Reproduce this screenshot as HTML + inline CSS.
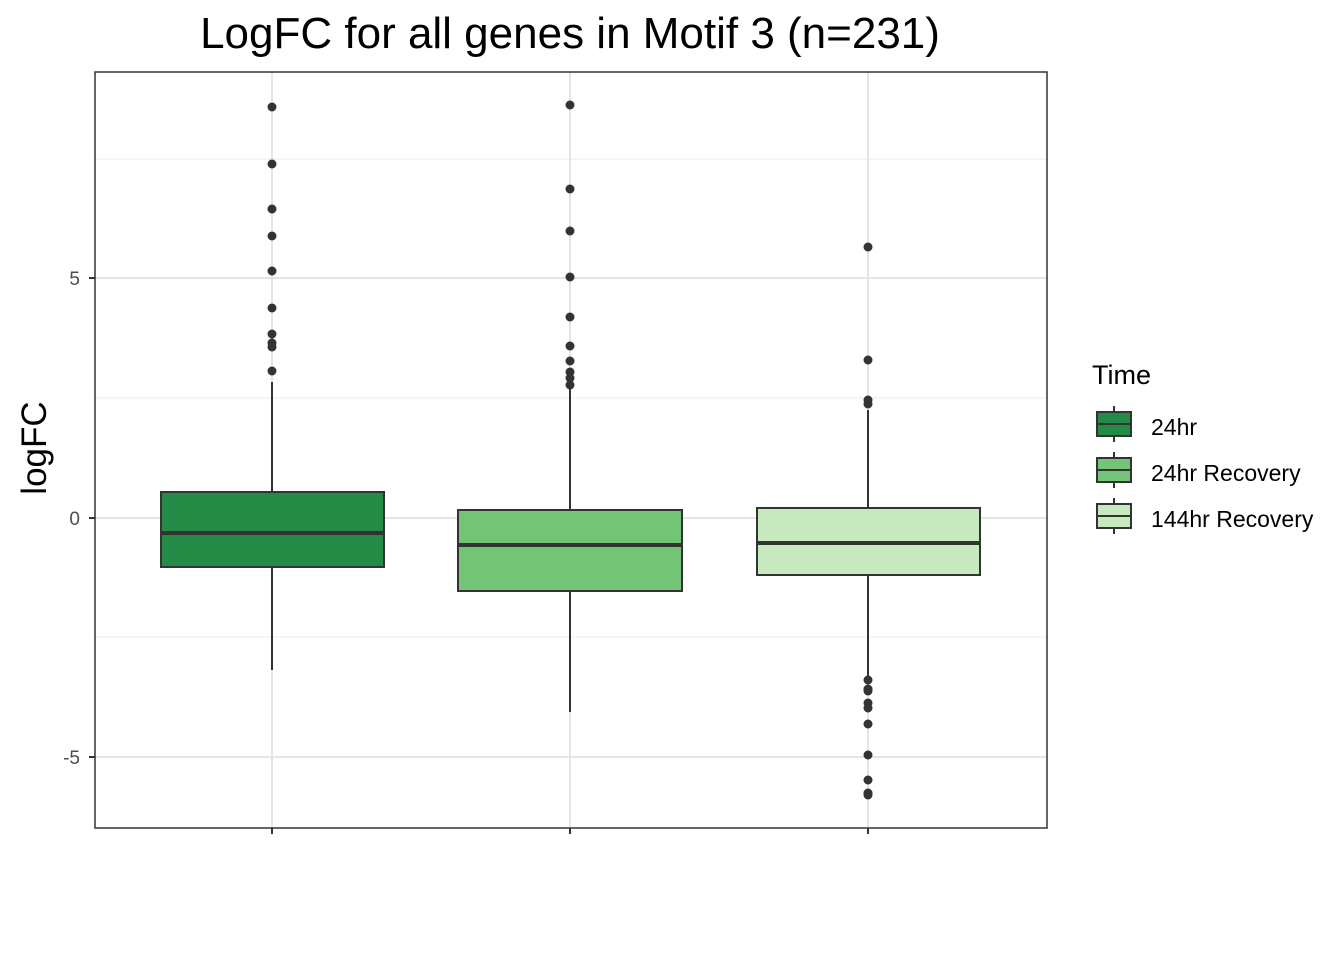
<!DOCTYPE html>
<html><head><style>body{margin:0;background:#fff}</style></head><body>
<svg width="1344" height="960" xmlns="http://www.w3.org/2000/svg" font-family="Liberation Sans, Arial, sans-serif">
<rect width="1344" height="960" fill="#fff"/>
<text x="570" y="48" font-size="44" text-anchor="middle" fill="#000">LogFC for all genes in Motif 3 (n=231)</text>
<g stroke="#ebebeb" stroke-width="1">
<line x1="95" x2="1047" y1="159" y2="159"/><line x1="95" x2="1047" y1="398" y2="398"/><line x1="95" x2="1047" y1="637" y2="637"/>
</g>
<g stroke="#e5e5e5" stroke-width="2">
<line x1="95" x2="1047" y1="278" y2="278"/><line x1="95" x2="1047" y1="518" y2="518"/><line x1="95" x2="1047" y1="757" y2="757"/>
<line x1="272" x2="272" y1="72" y2="828"/><line x1="570" x2="570" y1="72" y2="828"/><line x1="868" x2="868" y1="72" y2="828"/>
</g>
<g stroke="#333" stroke-width="2">
<line x1="272" x2="272" y1="382" y2="492"/><line x1="272" x2="272" y1="567" y2="670"/>
<rect x="161" y="492" width="223" height="75" fill="#238B45"/>
<line x1="161" x2="384" y1="533" y2="533" stroke-width="4"/>
<line x1="570" x2="570" y1="385" y2="510"/><line x1="570" x2="570" y1="591" y2="712"/>
<rect x="458" y="510" width="224" height="81" fill="#74C476"/>
<line x1="458" x2="682" y1="545" y2="545" stroke-width="4"/>
<line x1="868" x2="868" y1="410" y2="508"/><line x1="868" x2="868" y1="575" y2="680"/>
<rect x="757" y="508" width="223" height="67" fill="#C7E9C0"/>
<line x1="757" x2="980" y1="543" y2="543" stroke-width="4"/>
</g>
<g fill="#333">
<circle cx="272" cy="107" r="4.5"/><circle cx="272" cy="164" r="4.5"/><circle cx="272" cy="209" r="4.5"/><circle cx="272" cy="236" r="4.5"/><circle cx="272" cy="271" r="4.5"/><circle cx="272" cy="308" r="4.5"/><circle cx="272" cy="334" r="4.5"/><circle cx="272" cy="343" r="4.5"/><circle cx="272" cy="347" r="4.5"/><circle cx="272" cy="371" r="4.5"/>
<circle cx="570" cy="105" r="4.5"/><circle cx="570" cy="189" r="4.5"/><circle cx="570" cy="231" r="4.5"/><circle cx="570" cy="277" r="4.5"/><circle cx="570" cy="317" r="4.5"/><circle cx="570" cy="346" r="4.5"/><circle cx="570" cy="361" r="4.5"/><circle cx="570" cy="372" r="4.5"/><circle cx="570" cy="378" r="4.5"/><circle cx="570" cy="385" r="4.5"/>
<circle cx="868" cy="247" r="4.5"/><circle cx="868" cy="360" r="4.5"/><circle cx="868" cy="400" r="4.5"/><circle cx="868" cy="404" r="4.5"/>
<circle cx="868" cy="680" r="4.5"/><circle cx="868" cy="689" r="4.5"/><circle cx="868" cy="691" r="4.5"/><circle cx="868" cy="703" r="4.5"/><circle cx="868" cy="708" r="4.5"/><circle cx="868" cy="724" r="4.5"/><circle cx="868" cy="755" r="4.5"/><circle cx="868" cy="780" r="4.5"/><circle cx="868" cy="793" r="4.5"/><circle cx="868" cy="795" r="4.5"/>
</g>
<rect x="95" y="72" width="952" height="756" fill="none" stroke="#333" stroke-width="1.5"/>
<g stroke="#333" stroke-width="2">
<line x1="89" x2="95" y1="278" y2="278"/><line x1="89" x2="95" y1="518" y2="518"/><line x1="89" x2="95" y1="757" y2="757"/>
<line x1="272" x2="272" y1="828" y2="834"/><line x1="570" x2="570" y1="828" y2="834"/><line x1="868" x2="868" y1="828" y2="834"/>
</g>
<g font-size="19" fill="#4d4d4d" text-anchor="end">
<text x="80" y="285">5</text><text x="80" y="525">0</text><text x="80" y="764">-5</text>
</g>
<text transform="translate(46,448) rotate(-90)" font-size="35" text-anchor="middle" fill="#000">logFC</text>
<text x="1092" y="384" font-size="27" fill="#000">Time</text>
<g stroke="#333" stroke-width="2">
<line x1="1114" x2="1114" y1="406" y2="442"/><rect x="1097" y="412" width="34" height="24" fill="#238B45"/><line x1="1097" x2="1131" y1="424" y2="424"/>
<line x1="1114" x2="1114" y1="452" y2="488"/><rect x="1097" y="458" width="34" height="24" fill="#74C476"/><line x1="1097" x2="1131" y1="470" y2="470"/>
<line x1="1114" x2="1114" y1="498" y2="534"/><rect x="1097" y="504" width="34" height="24" fill="#C7E9C0"/><line x1="1097" x2="1131" y1="516" y2="516"/>
</g>
<g font-size="23" fill="#000">
<text x="1151" y="435">24hr</text><text x="1151" y="481">24hr Recovery</text><text x="1151" y="527">144hr Recovery</text>
</g>
</svg>
</body></html>
